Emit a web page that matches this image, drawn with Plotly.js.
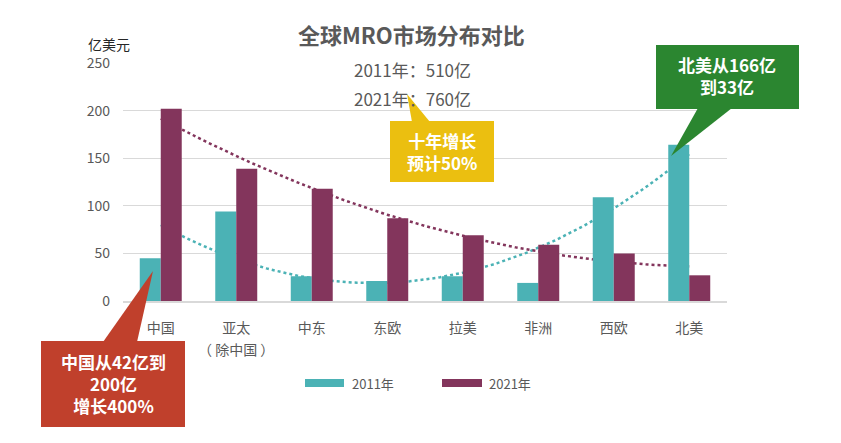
<!DOCTYPE html>
<html>
<head>
<meta charset="utf-8">
<script src="https://cdn.plot.ly/plotly-3.0.1.min.js"></script>
<style>
html,body{margin:0;padding:0;background:#fff;}
#chart{width:841px;height:443px;}
</style>
</head>
<body>
<div id="chart"></div>
<script>
// ---- data ----
const categories = ['中国', '亚太', '中东', '东欧', '拉美', '非洲', '西欧', '北美'];
const categoryNotes = ['', '（ 除中国 ）', '', '', '', '', '', ''];
const seriesNames = ['2011年', '2021年'];
const values2011 = [45, 94, 26, 21, 26, 19, 109, 164];
const values2021 = [202, 139, 118, 87, 69, 59, 50, 27];
const yTicks = [0, 50, 100, 150, 200, 250];
const titleText = '全球MRO市场分布对比';
const subtitleLines = ['2011年：510亿', '2021年：760亿'];
const unitLabel = '亿美元';
const calloutChina = '中国从42亿到<br>200亿<br>增长400%';
const calloutGrowth = '十年增长<br>预计50%';
const calloutNA = '北美从166亿<br>到33亿';

// ---- styles ----
const FONT = '"Noto Sans CJK SC", "Noto Sans", sans-serif';
const TEAL = '#4BB2B5';
const PURPLE = '#83355C';
const GRAY = '#595959';
const GRID = '#D9D9D9';
const W = 841, H = 443;
const M = {l: 123, r: 114, t: 63, b: 142};
const PW = W - M.l - M.r, PH = H - M.t - M.b;
const px = x => (x - M.l) / PW;
const py = y => (H - M.b - y) / PH;

// quadratic least-squares trendline (like a spreadsheet order-2 polynomial trendline)
function quadFit(ys) {
  const n = ys.length;
  let S = [0,0,0,0,0], T = [0,0,0];
  for (let i = 0; i < n; i++) {
    const x = i + 1, y = ys[i];
    for (let k = 0; k < 5; k++) S[k] += Math.pow(x, k);
    for (let k = 0; k < 3; k++) T[k] += Math.pow(x, k) * y;
  }
  const A = [[S[0],S[1],S[2],T[0]],[S[1],S[2],S[3],T[1]],[S[2],S[3],S[4],T[2]]];
  for (let c = 0; c < 3; c++) {
    for (let r = c + 1; r < 3; r++) {
      const f = A[r][c] / A[c][c];
      for (let k = c; k < 4; k++) A[r][k] -= f * A[c][k];
    }
  }
  const coef = [0,0,0];
  for (let r = 2; r >= 0; r--) {
    let s = A[r][3];
    for (let k = r + 1; k < 3; k++) s -= A[r][k] * coef[k];
    coef[r] = s / A[r][r];
  }
  const xs = [], out = [];
  const steps = 140;
  for (let j = 0; j <= steps; j++) {
    const xi = (n - 1) * j / steps;
    const x = xi + 1;
    xs.push(xi);
    out.push(coef[0] + coef[1] * x + coef[2] * x * x);
  }
  return {x: xs, y: out};
}

const idx = categories.map((c, i) => i);
const t1 = quadFit(values2011);
const t2 = quadFit(values2021);

const traces = [
  {type: 'scatter', mode: 'lines', x: t1.x, y: t1.y, xaxis: 'x', yaxis: 'y',
   line: {color: TEAL, width: 2.5, dash: 'dot'}, hoverinfo: 'skip', showlegend: false},
  {type: 'scatter', mode: 'lines', x: t2.x, y: t2.y, xaxis: 'x', yaxis: 'y',
   line: {color: PURPLE, width: 2.5, dash: 'dot'}, hoverinfo: 'skip', showlegend: false},
  {type: 'bar', name: seriesNames[0], x: idx, y: values2011, xaxis: 'x2', yaxis: 'y2',
   marker: {color: TEAL, line: {width: 0}}, showlegend: false},
  {type: 'bar', name: seriesNames[1], x: idx, y: values2021, xaxis: 'x2', yaxis: 'y2',
   marker: {color: PURPLE, line: {width: 0}}, showlegend: false}
];

function box(x0, y0, x1, y1, color) {
  return {type: 'rect', xref: 'paper', yref: 'paper', x0: px(x0), x1: px(x1), y0: py(y1), y1: py(y0),
          fillcolor: color, line: {width: 0}, layer: 'above'};
}
function tri(a, b, c, color) {
  const p = [a, b, c].map(q => px(q[0]) + ',' + py(q[1]));
  return {type: 'path', xref: 'paper', yref: 'paper', path: 'M' + p[0] + ' L' + p[1] + ' L' + p[2] + ' Z',
          fillcolor: color, line: {width: 0}, layer: 'above'};
}

const RED = '#C0402C', YEL = '#EBBF10', GRN = '#2B8630';
const shapes = [
  // red callout
  box(41, 341, 185, 427, RED),
  tri([103, 342], [153, 271], [137, 342], RED),
  // yellow callout
  box(390, 121, 494, 182, YEL),
  tri([412, 122], [407, 94], [430, 122], YEL),
  // green callout
  box(656, 45, 799, 109, GRN),
  tri([698, 108], [671, 156], [732, 108], GRN),
  // legend swatches
  box(305, 379, 344, 387, TEAL),
  box(442, 379, 482, 387, PURPLE)
];

function note(text, x, y, opts) {
  return Object.assign({text: text, xref: 'paper', yref: 'paper', x: px(x), y: py(y),
    showarrow: false, xanchor: 'center', yanchor: 'middle',
    font: {family: FONT, size: 14, color: GRAY}}, opts || {});
}

const annotations = [
  note('<b>' + titleText + '</b>', 411, 34, {font: {family: FONT, size: 22, color: GRAY}}),
  note(subtitleLines[0], 412, 69, {font: {family: FONT, size: 17, color: GRAY}}),
  note(subtitleLines[1], 412, 98, {font: {family: FONT, size: 17, color: GRAY}}),
  note(unitLabel, 109, 44, {font: {family: FONT, size: 14, color: '#262626'}}),
  note('<b>' + calloutChina + '</b>', 113, 383, {font: {family: FONT, size: 17, color: '#FFFFFF'}}),
  note('<b>' + calloutGrowth + '</b>', 442, 151, {font: {family: FONT, size: 17, color: '#FFFFFF'}}),
  note('<b>' + calloutNA + '</b>', 727, 75, {font: {family: FONT, size: 17, color: '#FFFFFF'}}),
  note(seriesNames[0], 350, 383, {xanchor: 'left', font: {family: FONT, size: 13, color: GRAY}}),
  note(seriesNames[1], 487, 383, {xanchor: 'left', font: {family: FONT, size: 13, color: GRAY}})
];
categoryNotes.forEach((t, i) => {
  if (t) annotations.push({text: t, xref: 'x', yref: 'paper', x: i, y: py(349), showarrow: false,
    xanchor: 'center', yanchor: 'middle', font: {family: FONT, size: 14, color: GRAY}});
});

const xr = [-0.5, categories.length - 0.5];
const layout = {
  width: W, height: H,
  margin: M,
  paper_bgcolor: '#fff', plot_bgcolor: 'rgba(0,0,0,0)',
  font: {family: FONT, color: GRAY},
  showlegend: false,
  bargap: 0.444, bargroupgap: 0, barmode: 'group',
  xaxis: {range: xr, tickmode: 'array', tickvals: idx, ticktext: categories,
          showgrid: false, zeroline: false, showline: true, linecolor: GRID, linewidth: 1.5,
          ticks: '', ticklabelstandoff: 14,
          tickfont: {family: FONT, size: 14, color: GRAY}, fixedrange: true},
  yaxis: {range: [0, 250], tickvals: yTicks, showgrid: true, gridcolor: GRID, gridwidth: 1,
          zeroline: false, showline: false,
          ticks: '', ticklabelstandoff: 12,
          tickfont: {family: FONT, size: 14, color: GRAY}, fixedrange: true},
  xaxis2: {overlaying: 'x', range: xr, visible: false, fixedrange: true},
  yaxis2: {overlaying: 'y', range: [0, 250], visible: false, fixedrange: true},
  shapes: shapes,
  annotations: annotations
};

Plotly.newPlot('chart', traces, layout, {staticPlot: true, displayModeBar: false});
</script>
</body>
</html>
